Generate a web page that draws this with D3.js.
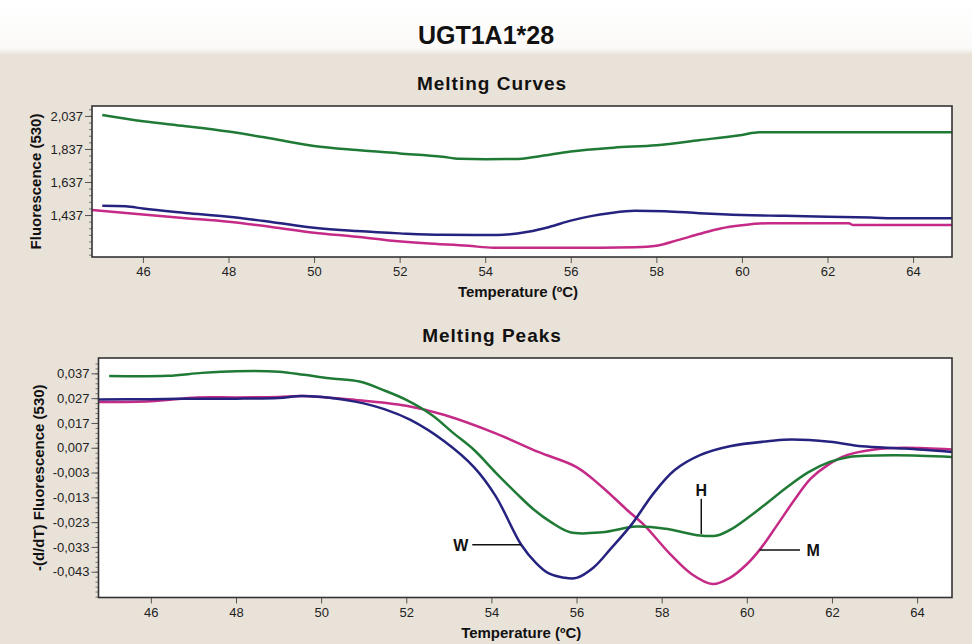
<!DOCTYPE html>
<html>
<head>
<meta charset="utf-8">
<script src="https://cdn.jsdelivr.net/npm/d3@7"></script>
<style>
  body { margin: 0; background: #fff; }
  .tick text { font-family: "Liberation Sans", Arial, sans-serif; font-size: 13px; fill: #222; }
  .ttl { font-family: "Liberation Sans", Arial, sans-serif; font-weight: bold; fill: #111; }
</style>
</head>
<body>
<div id="chart"></div>
<script>
// Chart title and panel titles
var mainTitle = "UGT1A1*28";
var panelTitles = ["Melting Curves", "Melting Peaks"];
var xTitle = "Temperature (\u00baC)";
var yTitles = ["Fluorescence (530)", "-(d/dT) Fluorescence (530)"];

// Tick labels
var xTicks = [46, 48, 50, 52, 54, 56, 58, 60, 62, 64];
var topYTicks = [1437, 1637, 1837, 2037];
var bottomYTicks = [0.037, 0.027, 0.017, 0.007, -0.003, -0.013, -0.023, -0.033, -0.043];

// Melting curves: [temperature, fluorescence]
var curveGreen = [[45.05,2043],[46,2005],[47,1975],[48,1942],[49,1900],[50,1855],[51,1830],[52,1810],[53,1790],[53.4,1777],[54,1775],[54.7,1776],[55.2,1790],[56,1822],[57,1845],[58,1860],[59,1890],[60,1922],[60.4,1938],[61,1938],[64.91,1938]];
var curveBlue = [[45.05,1493],[45.6,1490],[46,1476],[47,1450],[48,1427],[49,1395],[50,1360],[51,1340],[52,1326],[53,1317],[54.3,1316],[55,1336],[55.5,1365],[56,1403],[56.5,1432],[56.9,1448],[57.5,1463],[58.2,1460],[59,1448],[60,1437],[61,1432],[62,1427],[63,1422],[63.7,1417],[64.91,1417]];
var curveMagenta = [[44.81,1467],[46,1440],[47,1418],[48,1396],[49,1365],[50,1330],[51,1305],[51.7,1285],[52.6,1266],[53.6,1251],[54.2,1239],[56.7,1239],[57.5,1242],[58,1251],[58.5,1285],[59,1322],[59.5,1356],[60,1375],[60.6,1387],[62.5,1387],[62.6,1376],[64.91,1376]];

// Melting peaks: [temperature, -dF/dT]
var peakGreen = [[45.02,0.0359],[46.4,0.0360],[47.2,0.0372],[48,0.0379],[49,0.0377],[49.6,0.0364],[50.2,0.0350],[50.9,0.0337],[51.5,0.0300],[52.0,0.0263],[52.6,0.0202],[53.1,0.0130],[53.6,0.0060],[54.1,-0.0030],[54.6,-0.0116],[55.0,-0.0180],[55.4,-0.0230],[55.85,-0.0271],[56.6,-0.0271],[57.4,-0.0248],[58.1,-0.0257],[58.9,-0.0284],[59.3,-0.0284],[59.65,-0.0257],[60.25,-0.0183],[60.95,-0.0088],[61.45,-0.0028],[61.95,0.0013],[62.4,0.0033],[63.5,0.0040],[64.82,0.0033]];
var peakBlue = [[44.77,0.0265],[46,0.0266],[47,0.0268],[48,0.0268],[49,0.0271],[49.55,0.0279],[50.2,0.0272],[50.8,0.0256],[51.5,0.0225],[52.1,0.0182],[52.9,0.0095],[53.6,-0.0010],[54.1,-0.0125],[54.7,-0.0321],[55.05,-0.0395],[55.35,-0.0437],[55.7,-0.0454],[56.0,-0.0455],[56.4,-0.0413],[56.8,-0.0338],[57.3,-0.0238],[57.8,-0.0116],[58.3,-0.0021],[58.9,0.0040],[59.6,0.0076],[60.6,0.0098],[61.05,0.0103],[61.95,0.0094],[62.7,0.0076],[63.7,0.0067],[64.82,0.0053]];
var peakMagenta = [[44.77,0.0255],[46,0.0258],[47.1,0.0273],[48,0.0273],[49,0.0275],[49.55,0.0279],[50.8,0.0263],[52.0,0.0239],[52.9,0.0202],[54.1,0.0128],[55.1,0.0053],[56.0,-0.0008],[56.6,-0.0088],[57.2,-0.0183],[57.6,-0.0244],[58.2,-0.0359],[58.7,-0.0439],[59.2,-0.0480],[59.6,-0.0455],[60.0,-0.0400],[60.3,-0.0342],[60.7,-0.0245],[61.1,-0.0145],[61.5,-0.0055],[61.9,0.0000],[62.35,0.0040],[63,0.0063],[63.7,0.0070],[64.82,0.0063]];

// Peak annotations: label, label point, leader line from/to
var noteLabels = ["W", "H", "M"];
var noteText = [[53.28,-0.0321],[58.93,-0.0100],[61.56,-0.0342]];
var noteLines = [[[53.55,-0.0321],[54.7,-0.0321]], [[58.93,-0.0136],[58.93,-0.0278]], [[60.3,-0.0342],[61.25,-0.0342]]];

var colors = { green: "#1f7a35", blue: "#25237f", magenta: "#c42a86" };

var svgWidth = 972, svgHeight = 644;

var svg = d3.select("#chart").append("svg")
  .attr("width", svgWidth)
  .attr("height", svgHeight);

// background: white header fading into beige panel
var grad = svg.append("defs").append("linearGradient")
  .attr("id", "bg").attr("x1", 0).attr("x2", 0).attr("y1", 0).attr("y2", 1);
grad.append("stop").attr("offset", "0").attr("stop-color", "#ffffff");
grad.append("stop").attr("offset", "0.075").attr("stop-color", "#fbfaf8");
grad.append("stop").attr("offset", "0.085").attr("stop-color", "#e9e2d9");
grad.append("stop").attr("offset", "1").attr("stop-color", "#e9e2d9");
svg.append("rect").attr("width", svgWidth).attr("height", svgHeight).attr("fill", "url(#bg)");

svg.append("text").attr("class", "ttl")
  .attr("x", 486).attr("y", 44)
  .attr("text-anchor", "middle")
  .style("font-size", "25px")
  .text(mainTitle);

function drawPanel(opt) {
  var x = d3.scaleLinear().domain(opt.xDomain).range([opt.left, opt.right]);
  var y = d3.scaleLinear().domain(opt.yDomain).range([opt.bottom, opt.top]);

  svg.append("rect")
    .attr("x", opt.left).attr("y", opt.top)
    .attr("width", opt.right - opt.left).attr("height", opt.bottom - opt.top)
    .attr("fill", "#fff");

  // panel title
  svg.append("text").attr("class", "ttl")
    .attr("x", 492).attr("y", opt.top - 16)
    .attr("text-anchor", "middle")
    .style("font-size", "19px")
    .style("letter-spacing", "1px")
    .text(opt.title);

  // x axis
  svg.append("g")
    .attr("transform", `translate(0, ${opt.bottom})`)
    .call(d3.axisBottom(x).tickValues(xTicks).tickSize(6).tickSizeOuter(0).tickPadding(4))
    .call(g => g.select(".domain").remove())
    .call(g => g.selectAll(".tick line").attr("stroke", "#555"));

  // y axis minor ticks
  svg.append("g")
    .attr("transform", `translate(${opt.left}, 0)`)
    .call(d3.axisLeft(y).tickValues(opt.minor).tickSize(3).tickFormat(""))
    .call(g => g.select(".domain").remove())
    .call(g => g.selectAll(".tick line").attr("stroke", "#777"));

  // y axis major ticks
  svg.append("g")
    .attr("transform", `translate(${opt.left}, 0)`)
    .call(d3.axisLeft(y).tickValues(opt.yTicks).tickSize(7).tickPadding(2).tickFormat(opt.fmt))
    .call(g => g.select(".domain").remove())
    .call(g => g.selectAll(".tick line").attr("stroke", "#555"));

  var line = d3.line()
    .x(d => x(d[0]))
    .y(d => y(d[1]))
    .curve(opt.curve);

  opt.series.forEach(function(s) {
    svg.append("path")
      .datum(s.data)
      .attr("fill", "none")
      .attr("stroke", s.color)
      .attr("stroke-width", 2.5)
      .attr("d", line);
  });

  // plot frame
  svg.append("rect")
    .attr("x", opt.left).attr("y", opt.top)
    .attr("width", opt.right - opt.left).attr("height", opt.bottom - opt.top)
    .attr("fill", "none").attr("stroke", "#333").attr("stroke-width", 1.6);

  // axis titles
  svg.append("text").attr("class", "ttl")
    .attr("x", (opt.left + opt.right) / 2 - 4).attr("y", opt.bottom + 40)
    .attr("text-anchor", "middle")
    .style("font-size", "15px")
    .text(xTitle);

  svg.append("text").attr("class", "ttl")
    .attr("transform", `translate(${opt.yTitleX}, ${(opt.top + opt.bottom) / 2}) rotate(-90)`)
    .attr("text-anchor", "middle")
    .style("font-size", "15px")
    .text(opt.yTitle);

  return { x: x, y: y };
}

var fmtTop = d3.format(",d");
var fmtBottom = d => d3.format(".3f")(d).replace("\u2212", "-").replace(".", ",");

drawPanel({
  title: panelTitles[0],
  left: 92, right: 952, top: 106, bottom: 257,
  xDomain: [44.81, 64.91], yDomain: [1183, 2097],
  yTicks: topYTicks, minor: d3.range(1197, 2097, 40), fmt: fmtTop,
  yTitle: yTitles[0], yTitleX: 41, curve: d3.curveMonotoneX,
  series: [
    { data: curveGreen, color: colors.green },
    { data: curveBlue, color: colors.blue },
    { data: curveMagenta, color: colors.magenta }
  ]
});

var peaks = drawPanel({
  title: panelTitles[1],
  left: 98.5, right: 952, top: 358, bottom: 597.5,
  xDomain: [44.77, 64.82], yDomain: [-0.0534, 0.0432],
  yTicks: bottomYTicks, minor: d3.range(-0.053, 0.043, 0.002), fmt: fmtBottom,
  yTitle: yTitles[1], yTitleX: 44, curve: d3.curveCatmullRom.alpha(0.5),
  series: [
    { data: peakMagenta, color: colors.magenta },
    { data: peakGreen, color: colors.green },
    { data: peakBlue, color: colors.blue }
  ]
});

// W / H / M annotations
noteLines.forEach(function(l) {
  svg.append("line")
    .attr("x1", peaks.x(l[0][0])).attr("y1", peaks.y(l[0][1]))
    .attr("x2", peaks.x(l[1][0])).attr("y2", peaks.y(l[1][1]))
    .attr("stroke", "#111").attr("stroke-width", 1.5);
});

svg.selectAll("text.note")
  .data(noteLabels)
  .enter()
  .append("text")
  .attr("class", "ttl note")
  .attr("x", (d, i) => peaks.x(noteText[i][0]))
  .attr("y", (d, i) => peaks.y(noteText[i][1]) + 6)
  .attr("text-anchor", "middle")
  .style("font-size", "16px")
  .text(d => d);
</script>
</body>
</html>
